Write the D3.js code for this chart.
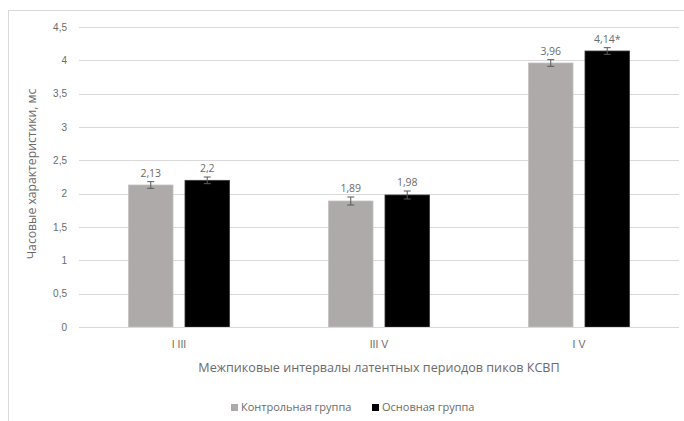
<!DOCTYPE html>
<html>
<head>
<meta charset="utf-8">
<script src="https://cdn.jsdelivr.net/npm/d3@7"></script>
<style>
  html, body { margin: 0; padding: 0; background: #fff; }
  svg { display: block; font-family: "Open Sans", "Noto Sans", sans-serif; }
</style>
</head>
<body>
<svg id="chart" width="684" height="421"></svg>
<script>
// Intervals between auditory evoked potential peaks
const categories = ["I III", "III V", "I V"];
const seriesNames = ["Контрольная группа", "Основная группа"];
const seriesColors = ["#aeaaaa", "#000000"];
const controlValues = [2.13, 1.89, 3.96];
const mainValues = [2.2, 1.98, 4.14];
const controlErrors = [0.05, 0.06, 0.05];
const mainErrors = [0.05, 0.06, 0.05];
const valueLabels = [["2,13", "1,89", "3,96"], ["2,2", "1,98", "4,14*"]];
const yTicks = [0, 0.5, 1, 1.5, 2, 2.5, 3, 3.5, 4, 4.5];
const yTickLabels = ["0", "0,5", "1", "1,5", "2", "2,5", "3", "3,5", "4", "4,5"];

const series = [controlValues, mainValues];
const errors = [controlErrors, mainErrors];

const svg = d3.select("#chart");
const plot = { left: 79, right: 679, top: 27, bottom: 327 };

// chart frame
svg.append("rect")
  .attr("x", 8.5).attr("y", 10.5).attr("width", 720).attr("height", 480)
  .attr("fill", "#fff").attr("stroke", "#d9d9d9");

const x = d3.scaleBand().domain(categories).range([plot.left, plot.right]);
const xs = d3.scaleBand().domain([0, 1]).range([0, x.bandwidth()]).paddingInner(0.212).paddingOuter(0.876);
const y = d3.scaleLinear().domain([0, 4.5]).range([plot.bottom, plot.top]);

// gridlines
svg.append("g").selectAll("line").data(yTicks.filter(t => t > 0)).join("line")
  .attr("x1", plot.left).attr("x2", plot.right)
  .attr("y1", d => Math.round(y(d)) + 0.5).attr("y2", d => Math.round(y(d)) + 0.5)
  .attr("stroke", "#d9d9d9").attr("stroke-width", 1);

// y axis labels
const yAxis = d3.axisLeft(y).tickValues(yTicks).tickFormat((d, i) => yTickLabels[i]).tickSize(0).tickPadding(12);
const gy = svg.append("g").attr("transform", `translate(${plot.left},0)`).call(yAxis);
gy.select(".domain").remove();
gy.selectAll("text").attr("fill", "#6b6b6b").style("font-size", "10px");

// bars
categories.forEach((c, ci) => {
  series.forEach((vals, si) => {
    const bx = x(c) + xs(si);
    const bw = xs.bandwidth();
    svg.append("rect")
      .attr("x", bx).attr("y", y(vals[ci]))
      .attr("width", bw).attr("height", y(0) - y(vals[ci]))
      .attr("fill", seriesColors[si])
      .attr("stroke", si === 0 ? "#c4c1c1" : "#3a3a3a").attr("stroke-width", 0.8);
    // error bars
    const cx = bx + bw / 2;
    const e = errors[si][ci];
    const g = svg.append("g").attr("stroke", "#595959").attr("stroke-width", 1);
    g.append("line").attr("x1", cx).attr("x2", cx).attr("y1", y(vals[ci] + e)).attr("y2", y(vals[ci] - e));
    g.append("line").attr("x1", cx - 3.5).attr("x2", cx + 3.5).attr("y1", y(vals[ci] + e)).attr("y2", y(vals[ci] + e));
    g.append("line").attr("x1", cx - 3.5).attr("x2", cx + 3.5).attr("y1", y(vals[ci] - e)).attr("y2", y(vals[ci] - e));
    // value labels
    svg.append("text")
      .attr("x", cx).attr("y", y(vals[ci] + e) - 5)
      .attr("text-anchor", "middle").attr("fill", "#6b6b6b")
      .style("font-size", "10.5px")
      .text(valueLabels[si][ci]);
  });
});

// x axis
svg.append("line")
  .attr("x1", plot.left).attr("x2", plot.right)
  .attr("y1", plot.bottom + 0.5).attr("y2", plot.bottom + 0.5)
  .attr("stroke", "#d9d9d9");
const xAxis = d3.axisBottom(x).tickSize(0).tickPadding(14);
const gx = svg.append("g").attr("transform", `translate(0,${plot.bottom})`).call(xAxis);
gx.select(".domain").remove();
gx.selectAll("text").attr("fill", "#6b6b6b").style("font-size", "10.5px");

// axis titles
svg.append("text")
  .attr("x", (plot.left + plot.right) / 2).attr("y", 372)
  .attr("text-anchor", "middle").attr("fill", "#6b6b6b").style("font-size", "12.6px")
  .text("Межпиковые интервалы латентных периодов пиков КСВП");
svg.append("text")
  .attr("transform", `translate(36,${(plot.top + plot.bottom) / 2 - 3}) rotate(-90)`)
  .attr("text-anchor", "middle").attr("fill", "#6b6b6b").style("font-size", "12.2px")
  .text("Часовые характеристики, мс");

// legend
const legend = svg.append("g").attr("transform", "translate(231,411)");
const legendX = [0, 141];
seriesNames.forEach((n, i) => {
  const g = legend.append("g").attr("transform", `translate(${legendX[i]},0)`);
  g.append("rect").attr("x", 0).attr("y", -7).attr("width", 7).attr("height", 7).attr("fill", seriesColors[i]);
  g.append("text").attr("x", 10).attr("y", 0).attr("fill", "#6b6b6b").style("font-size", "11px").text(n);
});
</script>
</body>
</html>
